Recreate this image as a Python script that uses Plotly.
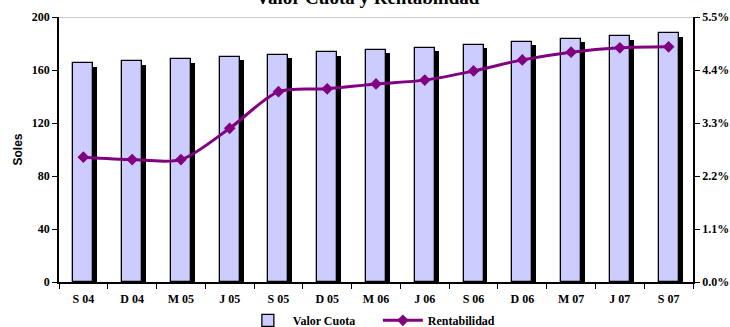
import plotly.graph_objects as go

periodos = ["S 04", "D 04", "M 05", "J 05", "S 05", "D 05", "M 06",
            "J 06", "S 06", "D 06", "M 07", "J 07", "S 07"]
valor_cuota = [165.2, 166.7, 168.2, 169.8, 171.6, 173.3, 175.1,
               176.8, 179.0, 181.1, 183.4, 185.6, 187.6]
rentabilidad = [2.59, 2.54, 2.54, 3.19, 3.95, 4.01, 4.11,
                4.19, 4.38, 4.61, 4.77, 4.86, 4.88]
soles_ticks = [0, 40, 80, 120, 160, 200]
pct_ticks = [0.0, 1.1, 2.2, 3.3, 4.4, 5.5]

serif = "Liberation Serif, Times New Roman, serif"
tick_font = dict(family=serif, size=12, color="black", weight="bold")
bar_w = 0.41
shadow_dx = 0.08
shadow_dy = 2.6

fig = go.Figure()

# drop shadow behind each bar
fig.add_trace(go.Bar(
    x=periodos, y=valor_cuota, base=[-shadow_dy] * len(valor_cuota),
    width=bar_w, offset=-bar_w / 2 + shadow_dx,
    marker=dict(color="black", line=dict(width=0)),
    showlegend=False, hoverinfo="skip",
))
fig.add_trace(go.Bar(
    x=periodos, y=valor_cuota, name="<b>Valor Cuota</b>",
    width=bar_w, offset=-bar_w / 2,
    marker=dict(color="#CCCCFF", line=dict(color="black", width=1.3)),
))
fig.add_trace(go.Scatter(
    x=periodos, y=rentabilidad, name="<b>Rentabilidad</b>", yaxis="y2",
    mode="lines+markers",
    line=dict(color="#800080", width=3, shape="spline", smoothing=0.8),
    marker=dict(symbol="diamond", size=9, color="#800080"),
))

# top border of the plot area
fig.add_shape(type="line", xref="paper", yref="y", x0=0, x1=1, y0=200, y1=200,
              line=dict(color="#999999", width=1.2))

fig.add_annotation(
    text="<b>Valor Cuota y Rentabilidad</b>", xref="paper", yref="paper",
    x=0.487, y=1.0, xanchor="center", yanchor="bottom", yshift=7,
    showarrow=False, font=dict(family=serif, size=19, color="black"),
)

fig.update_layout(
    width=730, height=327,
    margin=dict(l=59, r=37, t=17, b=45, autoexpand=False),
    paper_bgcolor="white", plot_bgcolor="white",
    barmode="overlay", bargap=0,
    font=dict(family=serif, size=12, color="black"),
    showlegend=True,
    legend=dict(orientation="h", x=0.29, y=-0.09, xanchor="left", yanchor="top",
                font=dict(family=serif, size=12, color="black"),
                itemwidth=40, tracegroupgap=0, entrywidthmode="pixels", entrywidth=80,
                bgcolor="rgba(0,0,0,0)"),
    xaxis=dict(
        type="category", showgrid=False, showline=True, linecolor="black", linewidth=1.5,
        ticks="outside", tickson="boundaries", ticklen=5, tickcolor="black",
        tickfont=tick_font, ticklabelstandoff=5,
        range=[-0.5, len(periodos) - 0.5],
    ),
    yaxis=dict(
        range=[0, 200], tickvals=soles_ticks, showgrid=False, zeroline=False,
        showline=True, linecolor="black", linewidth=1.5,
        ticks="outside", ticklen=5, tickcolor="black",
        tickfont=tick_font,
        title=dict(text="<b>Soles</b>", standoff=7,
                   font=dict(family="Liberation Sans, Arial, sans-serif", size=12)),
    ),
    yaxis2=dict(
        range=[0, 5.5], tickvals=pct_ticks,
        ticktext=[f"{v:.1f}%" for v in pct_ticks],
        overlaying="y", side="right", showgrid=False, zeroline=False,
        showline=True, linecolor="black", linewidth=1.5,
        ticks="outside", ticklen=5, tickcolor="black",
        tickfont=tick_font,
    ),
)

fig.write_html("out.html")
